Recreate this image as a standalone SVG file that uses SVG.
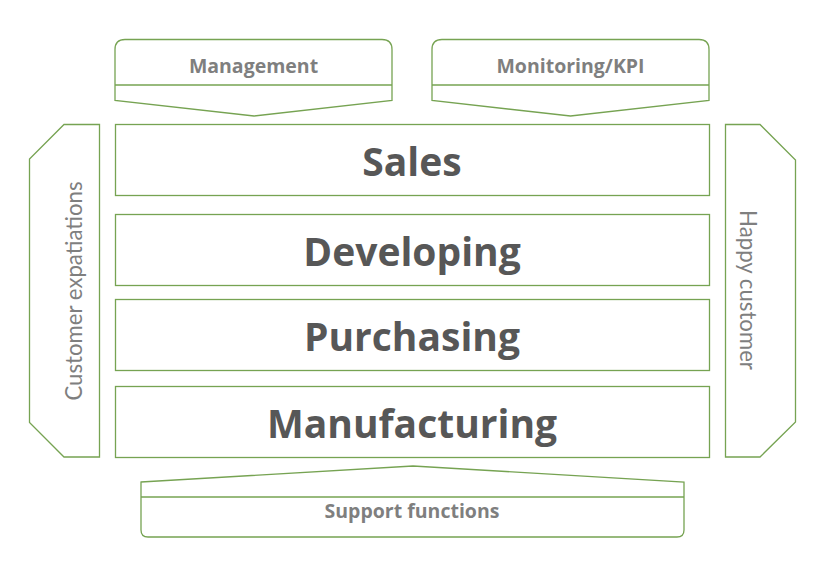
<svg xmlns="http://www.w3.org/2000/svg" width="822" height="565" viewBox="0 0 822 565">
<style>
.shape{fill:#ffffff;stroke:#76a352;stroke-width:1.3}
.div{stroke:#76a352;stroke-width:1.3;fill:none}
.big{font-family:"Open Sans",Lato,sans-serif;font-weight:bold;font-size:39px;fill:#575757;text-anchor:middle}
.lab{font-family:"Open Sans",Lato,sans-serif;font-weight:bold;font-size:19.5px;fill:#7f7f7f;text-anchor:middle}
.side{font-family:Lato,"Open Sans",sans-serif;font-size:22.2px;fill:#7f7f7f;text-anchor:middle}
</style>
<rect width="822" height="565" fill="#ffffff"/>
<g id="management">
<path class="shape" d="M115,100.5 L115,49.5 Q115,39.5 125,39.5 L382,39.5 Q392,39.5 392,49.5 L392,100.5 L254,116 Z"/>
<line class="div" x1="115" y1="85" x2="392" y2="85"/>
<text class="lab" x="253.5" y="72.5">Management</text>
</g>
<g id="monitoring">
<path class="shape" d="M432,100.5 L432,49.5 Q432,39.5 442,39.5 L699,39.5 Q709,39.5 709,49.5 L709,100.5 L570.5,116 Z"/>
<line class="div" x1="432" y1="85" x2="709" y2="85"/>
<text class="lab" x="570.5" y="72.5">Monitoring/KPI</text>
</g>
<g id="customer-expectations">
<path class="shape" d="M64,124.5 L99.5,124.5 L99.5,457 L64,457 L29.5,422.5 L29.5,159 Z"/>
<text class="side" transform="translate(81.5,291) rotate(-90)" x="0" y="0">Customer expatiations</text>
</g>
<g id="happy-customer">
<path class="shape" d="M725.5,124.5 L760,124.5 L795.5,160 L795.5,422 L760,457 L725.5,457 Z"/>
<text class="side" transform="translate(740,290) rotate(90)" x="0" y="0">Happy customer</text>
</g>
<g id="sales">
<rect class="shape" x="115.5" y="124.5" width="594" height="71"/>
<text class="big" x="412" y="176">Sales</text>
</g>
<g id="developing">
<rect class="shape" x="115.5" y="214.5" width="594" height="71"/>
<text class="big" x="412" y="265.5">Developing</text>
</g>
<g id="purchasing">
<rect class="shape" x="115.5" y="299.5" width="594" height="71"/>
<text class="big" x="412" y="350.5">Purchasing</text>
</g>
<g id="manufacturing">
<rect class="shape" x="115.5" y="386.5" width="594" height="71"/>
<text class="big" x="412" y="437.5">Manufacturing</text>
</g>
<g id="support">
<path class="shape" d="M141,482 L413,466 L684,482 L684,530 Q684,537 677,537 L148,537 Q141,537 141,530 Z"/>
<line class="div" x1="141" y1="497" x2="684" y2="497"/>
<text class="lab" x="412" y="518">Support functions</text>
</g>
<g id="connectors"></g>
</svg>
